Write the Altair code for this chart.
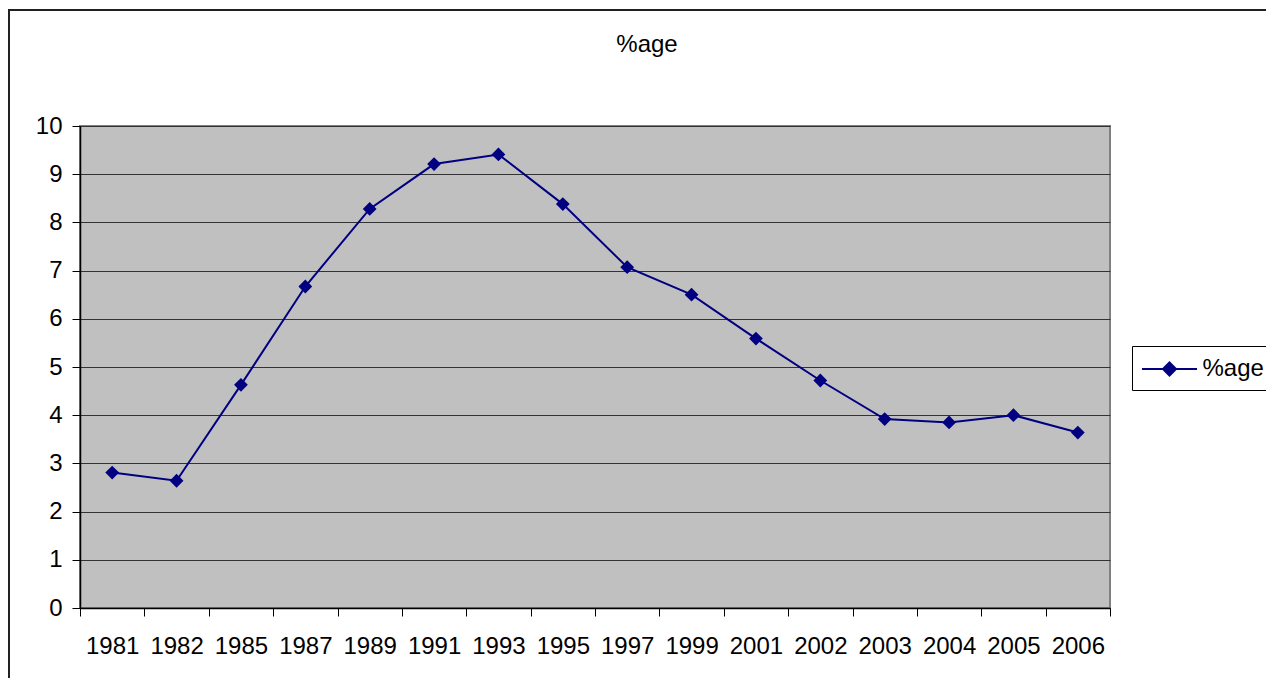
import altair as alt
import pandas as pd

years = ["1981", "1982", "1985", "1987", "1989", "1991", "1993", "1995",
         "1997", "1999", "2001", "2002", "2003", "2004", "2005", "2006"]
values = [2.81, 2.64, 4.63, 6.67, 8.28, 9.21, 9.41, 8.38,
          7.07, 6.50, 5.59, 4.72, 3.92, 3.85, 4.00, 3.64]
series_name = "%age"
y_ticks = [0, 1, 2, 3, 4, 5, 6, 7, 8, 9, 10]

df = pd.DataFrame({"year": years, "value": values, "series": series_name})

FONT = "Liberation Sans"
NAVY = "#000080"

# line with a diamond in the middle, wider than the symbol slot
legend_symbol = "M-2.115,0L2.115,0M-0.5,0L0,-0.5L0.5,0L0,0.5Z"

line = alt.Chart(df).mark_line(
    color=NAVY, strokeWidth=2,
    point=alt.OverlayMarkDef(filled=True, shape="diamond", size=190, color=NAVY),
).encode(
    x=alt.X("year:O", sort=years, bandPosition=0.5,
            scale=alt.Scale(type="band", paddingInner=0, paddingOuter=0),
            axis=alt.Axis(title=None, labelAngle=0, tickBand="extent",
                          labelFont=FONT, labelFontSize=24, labelColor="#000",
                          labelPadding=18, tickSize=8, tickColor="#000",
                          domainColor="#000", domainWidth=1.5, grid=False)),
    y=alt.Y("value:Q", scale=alt.Scale(domain=[0, 10], nice=False),
            axis=alt.Axis(title=None, values=y_ticks, format="d",
                          labelFont=FONT, labelFontSize=24, labelColor="#000",
                          labelPadding=10, tickSize=8, tickColor="#000",
                          domainColor="#000", domainWidth=1.5,
                          grid=True, gridColor="#333", gridWidth=1.2)),
    color=alt.Color("series:N", scale=alt.Scale(range=[NAVY]),
                    legend=alt.Legend(title=None, orient="none",
                                      legendX=1052, legendY=220,
                                      symbolType=legend_symbol, symbolSize=676,
                                      symbolOffset=14.5,
                                      symbolStrokeWidth=2, symbolFillColor=NAVY,
                                      symbolStrokeColor=NAVY,
                                      labelFont=FONT, labelFontSize=24,
                                      labelColor="#000", labelOffset=19,
                                      padding=9, strokeColor="#000",
                                      fillColor="#fff")),
)

frame_left = alt.Chart(df).mark_rule(color="#222", strokeWidth=2).encode(
    x=alt.value(-71), y=alt.value(-116), y2=alt.value(600))
frame_top = alt.Chart(df).mark_rule(color="#222", strokeWidth=1.5).encode(
    x=alt.value(-72), x2=alt.value(1300), y=alt.value(-116))

chart = alt.layer(frame_left, frame_top, line).properties(
    width=1030, height=482,
    autosize=alt.AutoSizeParams(type="none"),
    padding={"left": 72, "top": 118, "right": 156, "bottom": 70},
    title=alt.TitleParams("%age", font=FONT, fontSize=24, fontWeight="normal",
                          color="#000", anchor="middle", frame="group",
                          baseline="alphabetic", dx=52, offset=-67),
    background="#ffffff",
).configure_view(
    fill="#c0c0c0", stroke="#808080", strokeWidth=2
)

chart.save("out.html", embed_options={"renderer": "svg", "actions": False})
